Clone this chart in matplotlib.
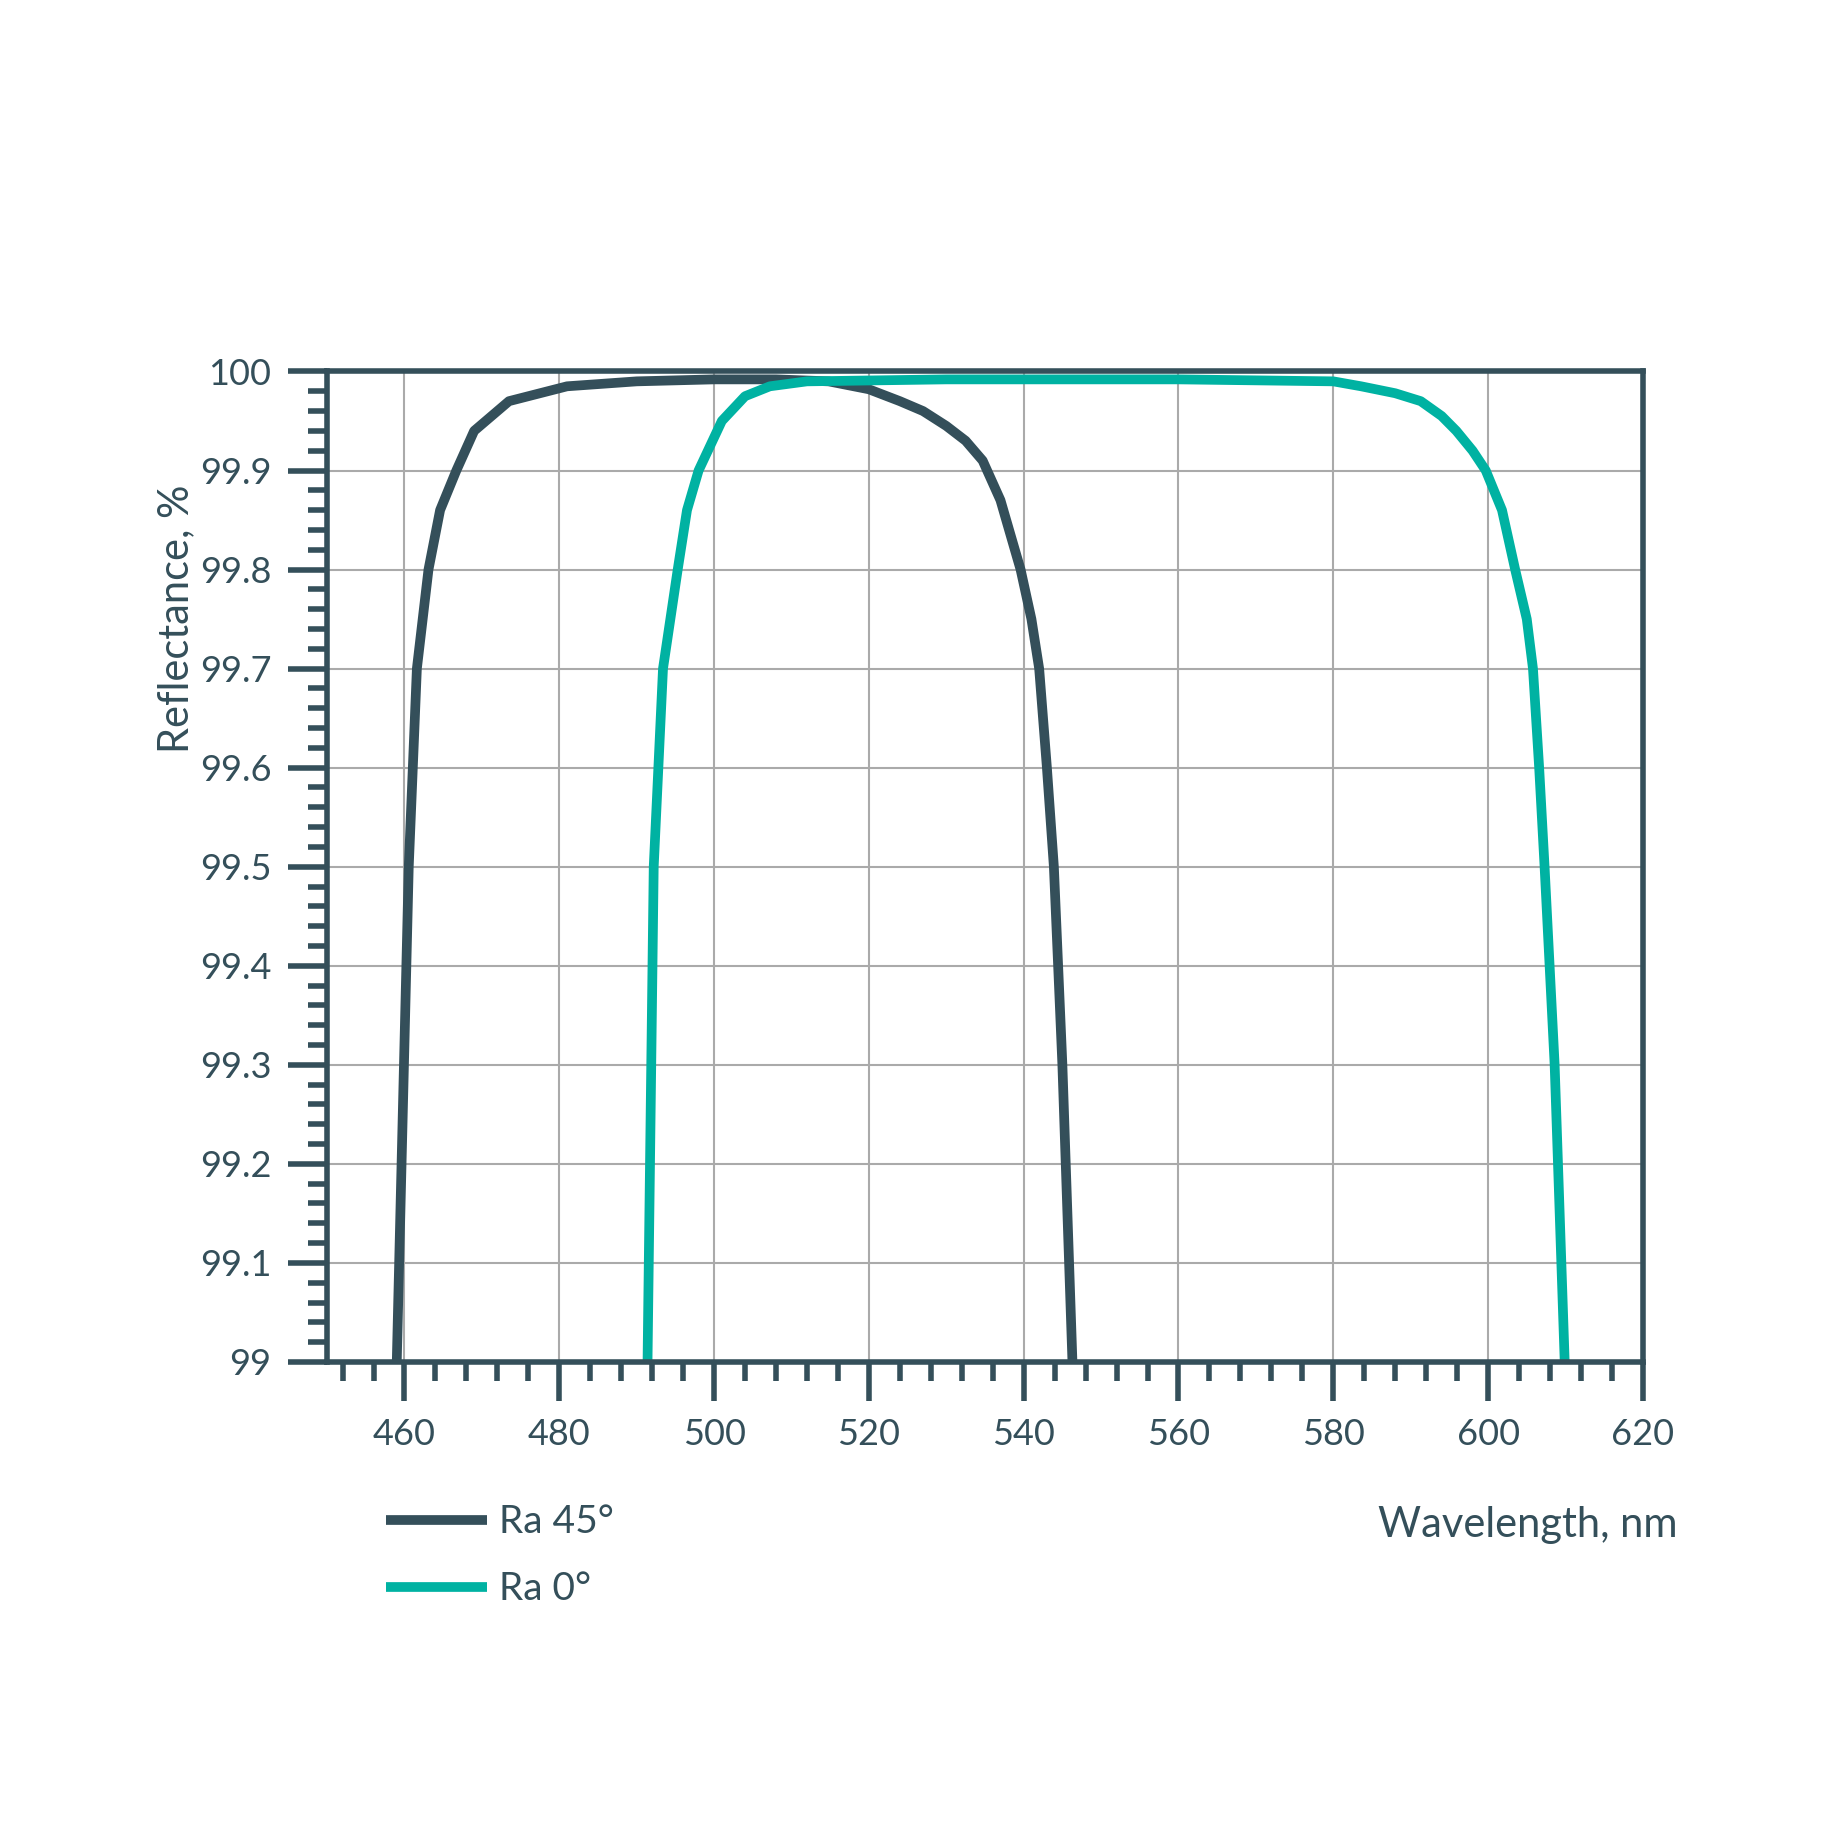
import matplotlib
matplotlib.use("Agg")
import matplotlib.pyplot as plt
import numpy as np
from matplotlib.ticker import MultipleLocator, FixedLocator

plt.rcParams['font.family'] = ['Lato', 'DejaVu Sans']

wl45 = [459.0, 460.55, 461.6, 463.1, 464.6, 466.7, 469.0, 473.5, 481.0, 490, 500, 508, 514.8, 520, 524.0, 527, 530.0, 532.5, 534.7, 537.0, 539.6, 541.0, 542.0, 543.0, 543.9, 545.0, 546.3]
r45 = [99.0, 99.5, 99.7, 99.8, 99.86, 99.9, 99.94, 99.97, 99.985, 99.99, 99.992, 99.992, 99.99, 99.982, 99.97, 99.96, 99.945, 99.93, 99.91, 99.87, 99.8, 99.75, 99.7, 99.6, 99.5, 99.3, 99.0]
wl0 = [491.4, 492.2, 493.4, 495.3, 496.5, 498.0, 501.0, 504, 507.2, 512, 530, 560, 580, 583.6, 588, 591.3, 594, 595.9, 598, 599.7, 601.8, 603.5, 605.0, 605.8, 606.6, 607.3, 608.6, 609.9]
r0 = [99.0, 99.5, 99.7, 99.8, 99.86, 99.9, 99.95, 99.975, 99.985, 99.99, 99.992, 99.992, 99.99, 99.985, 99.978, 99.97, 99.955, 99.94, 99.92, 99.9, 99.86, 99.8, 99.75, 99.7, 99.6, 99.5, 99.3, 99.0]
xticks = [460, 480, 500, 520, 540, 560, 580, 600, 620]
yticks = [99, 99.1, 99.2, 99.3, 99.4, 99.5, 99.6, 99.7, 99.8, 99.9, 100]
ylabels = ["99", "99.1", "99.2", "99.3", "99.4", "99.5", "99.6", "99.7", "99.8", "99.9", "100"]

dark = "#344f5a"
teal = "#00b2a2"

fig = plt.figure(figsize=(18.48, 18.48), dpi=100)
ax = fig.add_axes([0.177, 0.263, 0.712, 0.536])
l1, = ax.plot(wl45, r45, color=dark, lw=7, solid_capstyle='butt', label="Ra 45°")
l2, = ax.plot(wl0, r0, color=teal, lw=7, solid_capstyle='butt', label="Ra 0°")
ax.set_xlim(450, 620)
ax.set_ylim(99, 100)
ax.xaxis.set_major_locator(FixedLocator(xticks))
ax.xaxis.set_minor_locator(MultipleLocator(4))
ax.yaxis.set_major_locator(FixedLocator(yticks))
ax.yaxis.set_minor_locator(MultipleLocator(0.02))
ax.set_yticklabels(ylabels)
ax.grid(True, which='major', color='#aaaaaa', lw=1.5)
for s in ax.spines.values():
    s.set_color(dark); s.set_linewidth(4)
ax.tick_params(axis='both', which='major', colors=dark, labelsize=26, width=4, length=28, pad=12)
ax.tick_params(axis='both', which='minor', colors=dark, width=4, length=14)
ax.set_ylabel("Reflectance, %", fontsize=30, color=dark, labelpad=15)
ax.yaxis.set_label_coords(-0.1, 0.75)
fig.text(0.908, 0.175, "Wavelength, nm", fontsize=30, color=dark, ha='right', va='center')
leg = fig.legend(handles=[l1, l2], loc='upper left', bbox_to_anchor=(0.19, 0.205),
                 frameon=False, fontsize=28, handlelength=2.6, labelspacing=0.8, handletextpad=0.3)
for t in leg.get_texts():
    t.set_color(dark)
fig.savefig("out.png", dpi=100, facecolor='white')
